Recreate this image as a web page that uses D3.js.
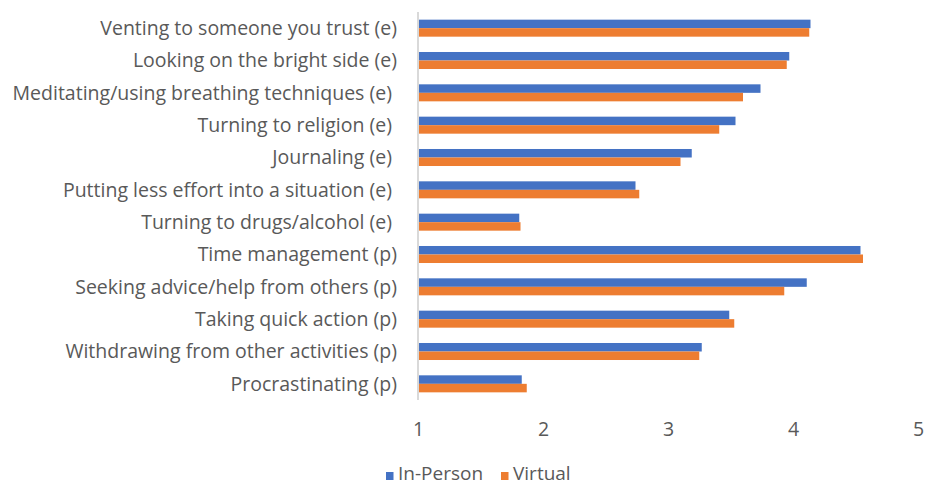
<!DOCTYPE html>
<html>
<head>
<meta charset="utf-8">
<script src="https://cdn.jsdelivr.net/npm/d3@7/dist/d3.min.js"></script>
<style>
  html, body { margin: 0; padding: 0; background: #fff; }
  svg text { font-family: "Open Sans", Lato, sans-serif; fill: #595959; white-space: pre; }
</style>
</head>
<body>
<svg id="chart" width="930" height="485"></svg>
<script>
// Coping strategies, top to bottom
const categories = [
  "Venting to someone you trust (e)",
  "Looking on the bright side (e)",
  "Meditating/using breathing techniques (e) ",
  "Turning to religion (e) ",
  "Journaling (e) ",
  "Putting less effort into a situation (e) ",
  "Turning to drugs/alcohol (e) ",
  "Time management (p)",
  "Seeking advice/help from others (p)",
  "Taking quick action (p)",
  "Withdrawing from other activities (p)",
  "Procrastinating (p)"
];
const seriesNames = ["In-Person", "Virtual"];
const inPerson = [4.14, 3.97, 3.74, 3.54, 3.19, 2.74, 1.81, 4.54, 4.11, 3.49, 3.27, 1.83];
const virtual  = [4.13, 3.95, 3.60, 3.41, 3.10, 2.77, 1.82, 4.56, 3.93, 3.53, 3.25, 1.87];
const xTicks = [1, 2, 3, 4, 5];
const colors = ["#4472C4", "#ED7D31"];

const svg = d3.select("#chart");
const fontSize = 19.5;

const x = d3.scaleLinear().domain([1, 5]).range([418, 918]);
const y = d3.scaleBand().domain(categories).range([12, 400]).paddingInner(0.474).paddingOuter(0.237);
const ySub = d3.scaleBand().domain(seriesNames).range([0, y.bandwidth()]);

const rows = categories.map((c, i) => ({ cat: c, values: [inPerson[i], virtual[i]] }));

// Bars
const g = svg.append("g");
const groups = g.selectAll("g.row").data(rows).join("g")
  .attr("class", "row")
  .attr("transform", d => `translate(0,${y(d.cat)})`);
groups.selectAll("rect").data(d => d.values.map((v, k) => ({ v, k }))).join("rect")
  .attr("x", x(1))
  .attr("y", d => ySub(seriesNames[d.k]))
  .attr("width", d => x(d.v) - x(1))
  .attr("height", ySub.bandwidth())
  .attr("fill", d => colors[d.k]);

// Vertical axis line at x = 1
svg.append("line")
  .attr("x1", x(1)).attr("x2", x(1))
  .attr("y1", 12).attr("y2", 400)
  .attr("stroke", "#d9d9d9").attr("stroke-width", 2);

// Category labels
svg.selectAll("text.cat").data(categories).join("text")
  .attr("class", "cat")
  .attr("x", 397)
  .attr("y", d => y(d) + y.bandwidth() / 2)
  .attr("dy", "0.35em")
  .attr("text-anchor", "end")
  .attr("font-size", fontSize)
  .text(d => d);

// X axis tick labels
const xAxis = d3.axisBottom(x).tickValues(xTicks).tickSize(0).tickPadding(0).tickFormat(d3.format("d"));
const ax = svg.append("g").attr("transform", "translate(0,422)").call(xAxis);
ax.select(".domain").remove();
ax.selectAll("text").attr("font-size", fontSize).attr("font-family", null).attr("fill", "#595959");

// Legend
const legend = svg.append("g").attr("transform", "translate(386,476)");
const legendX = [0, 115];
seriesNames.forEach((name, k) => {
  const item = legend.append("g").attr("transform", `translate(${legendX[k]},0)`);
  item.append("rect").attr("x", 0).attr("y", -4).attr("width", 7.5).attr("height", 8).attr("fill", colors[k]);
  item.append("text").attr("x", 12).attr("y", 3.5).attr("font-size", 19).text(name);
});
</script>
</body>
</html>
